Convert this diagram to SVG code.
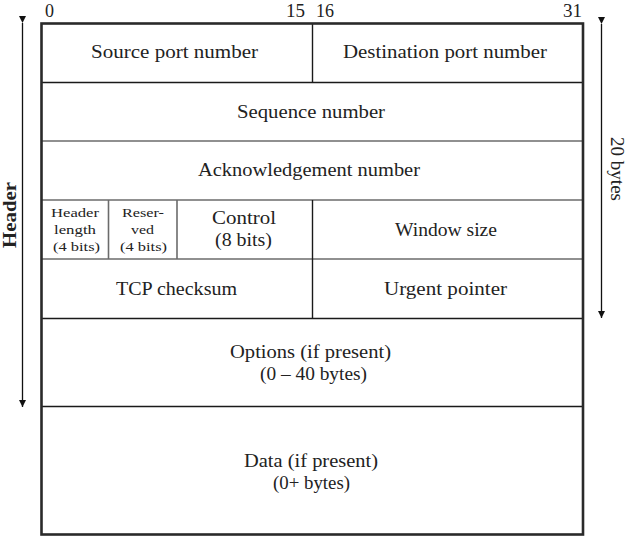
<svg xmlns="http://www.w3.org/2000/svg" width="626" height="538" viewBox="0 0 626 538">
  <defs>
    <marker id="ah" viewBox="0 0 10 10" refX="10" refY="5" markerWidth="7" markerHeight="11" markerUnits="userSpaceOnUse" orient="auto">
      <path d="M0,0 L10,5 L0,10 Z" fill="#111"/>
    </marker>
    <style>
      text { font-family: "Liberation Serif", "DejaVu Serif", serif; fill: #222; }
      .lbl { font-size: 18px; text-anchor: middle; }
      .sm { font-size: 13.5px; text-anchor: middle; }
      .bit { font-size: 18px; }
      .ln { stroke: #1a1a1a; stroke-width: 1.4; fill: none; }
      .lng { stroke: #6b6b6b; stroke-width: 1.6; fill: none; }
      .outer { fill: none; stroke: #2a2a2a; stroke-width: 2.6; }
      .arr { stroke: #111; stroke-width: 1.3; fill: none; }
    </style>
  </defs>

  <rect width="626" height="538" fill="#fff"/>

  <!-- bit numbering -->
  <g id="bits">
    <text class="bit" x="45" y="17" textLength="9" lengthAdjust="spacingAndGlyphs">0</text>
    <text class="bit" x="286" y="17" textLength="19" lengthAdjust="spacingAndGlyphs">15</text>
    <text class="bit" x="316" y="17" textLength="18" lengthAdjust="spacingAndGlyphs">16</text>
    <text class="bit" x="563" y="17" textLength="19" lengthAdjust="spacingAndGlyphs">31</text>
  </g>

  <!-- internal grid lines -->
  <g id="grid">
    <line class="ln" x1="41" y1="82.5" x2="583" y2="82.5"/>
    <line class="lng" x1="41" y1="141" x2="583" y2="141"/>
    <line class="lng" x1="41" y1="200" x2="583" y2="200"/>
    <line class="lng" x1="41" y1="259" x2="583" y2="259"/>
    <line class="ln" x1="41" y1="318.5" x2="583" y2="318.5"/>
    <line class="ln" x1="41" y1="406.5" x2="583" y2="406.5"/>
    <line class="ln" x1="312.5" y1="23" x2="312.5" y2="82.5"/>
    <line class="ln" x1="312.5" y1="200" x2="312.5" y2="318.5"/>
    <line class="lng" x1="108.5" y1="200" x2="108.5" y2="259"/>
    <line class="lng" x1="177" y1="200" x2="177" y2="259"/>
  </g>

  <g id="src-port"><text class="lbl" x="174.5" y="58" textLength="167" lengthAdjust="spacingAndGlyphs">Source port number</text></g>
  <g id="dst-port"><text class="lbl" x="445" y="58" textLength="204" lengthAdjust="spacingAndGlyphs">Destination port number</text></g>
  <g id="seq"><text class="lbl" x="311" y="118" textLength="148" lengthAdjust="spacingAndGlyphs">Sequence number</text></g>
  <g id="ack"><text class="lbl" x="309" y="176" textLength="222" lengthAdjust="spacingAndGlyphs">Acknowledgement number</text></g>
  <g id="hlen">
    <text class="sm" x="75" y="217" textLength="48" lengthAdjust="spacingAndGlyphs">Header</text>
    <text class="sm" x="75" y="234" textLength="42" lengthAdjust="spacingAndGlyphs">length</text>
    <text class="sm" x="76.5" y="251" textLength="47" lengthAdjust="spacingAndGlyphs">(4 bits)</text>
  </g>
  <g id="reserved">
    <text class="sm" x="143" y="217" textLength="42" lengthAdjust="spacingAndGlyphs">Reser-</text>
    <text class="sm" x="142.5" y="234" textLength="23" lengthAdjust="spacingAndGlyphs">ved</text>
    <text class="sm" x="143.5" y="251" textLength="47" lengthAdjust="spacingAndGlyphs">(4 bits)</text>
  </g>
  <g id="control">
    <text class="lbl" x="244" y="224" textLength="64" lengthAdjust="spacingAndGlyphs">Control</text>
    <text class="lbl" x="243.5" y="246" textLength="57" lengthAdjust="spacingAndGlyphs">(8 bits)</text>
  </g>
  <g id="window"><text class="lbl" x="446" y="236" textLength="102" lengthAdjust="spacingAndGlyphs">Window size</text></g>
  <g id="checksum"><text class="lbl" x="176.5" y="295" textLength="121" lengthAdjust="spacingAndGlyphs">TCP checksum</text></g>
  <g id="urgent"><text class="lbl" x="445.5" y="295" textLength="123" lengthAdjust="spacingAndGlyphs">Urgent pointer</text></g>
  <g id="options">
    <text class="lbl" x="310.5" y="358" textLength="161" lengthAdjust="spacingAndGlyphs">Options (if present)</text>
    <text class="lbl" x="313.5" y="380" textLength="107" lengthAdjust="spacingAndGlyphs">(0 – 40 bytes)</text>
  </g>
  <g id="data">
    <text class="lbl" x="311" y="467" textLength="134" lengthAdjust="spacingAndGlyphs">Data (if present)</text>
    <text class="lbl" x="311.5" y="489" textLength="77" lengthAdjust="spacingAndGlyphs">(0+ bytes)</text>
  </g>

  <!-- outer frame -->
  <rect class="outer" x="41.5" y="23.5" width="541.5" height="511"/>

  <!-- extent arrows -->
  <g id="connectors">
    <line class="arr" x1="22.5" y1="23" x2="22.5" y2="407" marker-start="url(#ah)" marker-end="url(#ah)"/>
    <line class="arr" x1="601.5" y1="24" x2="601.5" y2="318" marker-start="url(#ah)" marker-end="url(#ah)"/>
  </g>
  <g id="header-label">
    <text transform="translate(16 215) rotate(-90)" text-anchor="middle" font-size="18" font-weight="bold" textLength="66" lengthAdjust="spacingAndGlyphs">Header</text>
  </g>
  <g id="bytes-label">
    <text transform="translate(611 169) rotate(90)" text-anchor="middle" font-size="18" textLength="64" lengthAdjust="spacingAndGlyphs">20 bytes</text>
  </g>
</svg>
